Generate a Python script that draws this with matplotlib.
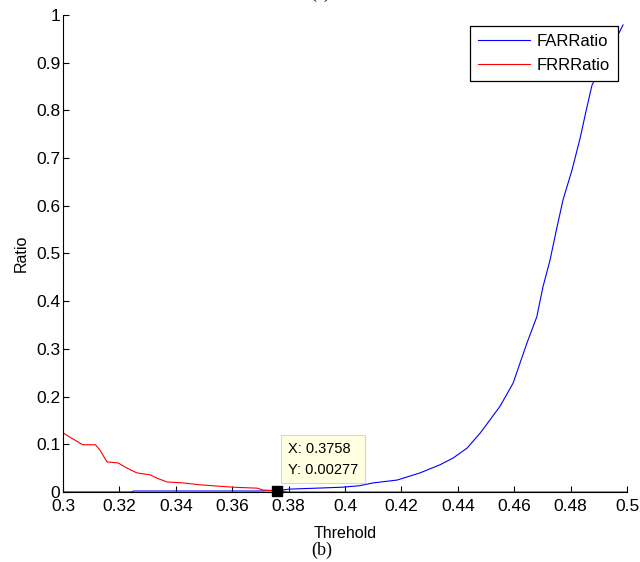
import numpy as np
import matplotlib.pyplot as plt

plt.rcParams['font.family'] = ['Liberation Sans', 'DejaVu Sans']

# FAR curve (blue)
far_thr = [0.3, 0.3245, 0.325, 0.37, 0.376, 0.3805, 0.39, 0.399, 0.405, 0.41,
           0.4185, 0.4266, 0.4337, 0.4383, 0.4433, 0.448, 0.4514, 0.455, 0.4596,
           0.4645, 0.468, 0.4702, 0.4727, 0.4752, 0.4773, 0.4805, 0.4833, 0.4858,
           0.4876, 0.4935, 0.4986]
far_val = [0, 0, 0.002, 0.002, 0.003, 0.006, 0.008, 0.01, 0.013, 0.019,
           0.025, 0.04, 0.057, 0.071, 0.092, 0.124, 0.151, 0.18, 0.228,
           0.312, 0.367, 0.43, 0.486, 0.556, 0.612, 0.675, 0.74, 0.807,
           0.853, 0.92, 0.979]

# FRR curve (red)
frr_thr = [0.3, 0.303, 0.307, 0.3115, 0.3131, 0.3156, 0.3195, 0.3227, 0.3262,
           0.3309, 0.3333, 0.3369, 0.3426, 0.3486, 0.3603, 0.3688, 0.371,
           0.3758, 0.38, 0.5]
frr_val = [0.124, 0.113, 0.099, 0.099, 0.088, 0.063, 0.061, 0.05, 0.04,
           0.036, 0.029, 0.021, 0.019, 0.015, 0.01, 0.008, 0.004,
           0.00277, 0, 0]

tip_x, tip_y = 0.3758, 0.00277

fig = plt.figure(figsize=(6.4, 5.62), dpi=100)
ax = fig.add_axes([0.0984, 0.1246, 0.8813, 0.8488])

ax.plot(far_thr, far_val, color='#0000ff', lw=0.8, label='FARRatio')
ax.plot(frr_thr, frr_val, color='#ff0000', lw=0.8, label='FRRRatio')

# data tip
ax.plot(tip_x, tip_y, 's', color='black', ms=7, clip_on=False, zorder=5)
ax.annotate('X: 0.3758\nY: 0.00277', xy=(tip_x, tip_y), xytext=(11, 14),
            textcoords='offset pixels', ha='left', va='bottom', fontsize=10.5,
            linespacing=1.6,
            bbox=dict(boxstyle='square,pad=0.45', fc='#ffffe1', ec='#d8d8c8', lw=0.8))

ax.set_xlim(0.3, 0.5)
ax.set_ylim(0, 1)
ax.set_xticks(np.arange(0.3, 0.501, 0.02))
ax.set_xticklabels(['0.3', '0.32', '0.34', '0.36', '0.38', '0.4', '0.42',
                    '0.44', '0.46', '0.48', '0.5'])
ax.set_yticks(np.arange(0, 1.01, 0.1))
ax.set_yticklabels(['0', '0.1', '0.2', '0.3', '0.4', '0.5', '0.6', '0.7',
                    '0.8', '0.9', '1'])
ax.tick_params(direction='in', length=4, width=0.8, labelsize=12.5)
ax.tick_params(axis='x', pad=5)
ax.tick_params(axis='y', pad=2)
ax.spines['top'].set_visible(False)
ax.spines['right'].set_visible(False)
ax.spines['left'].set_linewidth(0.8)
ax.spines['bottom'].set_linewidth(0.8)

ax.set_xlabel('Threhold', fontsize=11.5, labelpad=9)
ax.set_ylabel('Ratio', fontsize=11.5, labelpad=5)

leg = ax.legend(loc='upper right', bbox_to_anchor=(0.984, 0.977), fontsize=12,
                fancybox=False, edgecolor='black', framealpha=1,
                handlelength=3.1, borderaxespad=0, borderpad=0.5,
                labelspacing=0.5, handletextpad=0.4)
leg.get_frame().set_linewidth(0.9)

fig.text(0.5, 1.0 + 7 / 562, '(a)', ha='center', va='center',
         family='Liberation Serif', fontsize=13)
fig.text(0.503, 12 / 562, '(b)', ha='center', va='center',
         family='Liberation Serif', fontsize=13)

fig.savefig('out.png', dpi=100)
